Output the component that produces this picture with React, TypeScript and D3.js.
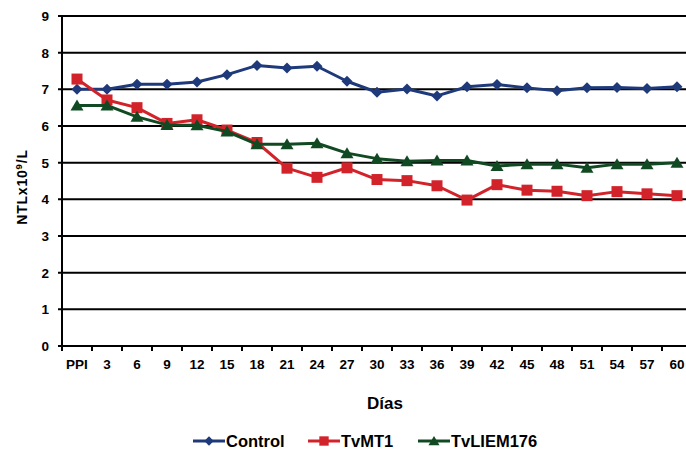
import React from "react";
import * as d3 from "d3";

const categories = ["PPI","3","6","9","12","15","18","21","24","27","30","33","36","39","42","45","48","51","54","57","60"];
const control = [7.0,7.0,7.14,7.14,7.2,7.4,7.65,7.58,7.63,7.22,6.92,7.01,6.82,7.07,7.13,7.04,6.96,7.04,7.05,7.02,7.07];
const tvmt1 = [7.28,6.71,6.5,6.07,6.17,5.89,5.55,4.85,4.6,4.86,4.54,4.51,4.37,3.98,4.4,4.25,4.22,4.1,4.21,4.15,4.1];
const tvliem = [6.56,6.56,6.25,6.03,6.02,5.85,5.5,5.5,5.53,5.26,5.11,5.04,5.06,5.06,4.91,4.96,4.96,4.86,4.96,4.96,5.0];
const yTicks = [0,1,2,3,4,5,6,7,8,9];

const W = 686, H = 450;
const left = 62, right = 692, top = 16, bottom = 346;
const font = "'Liberation Sans', Arial, sans-serif";

const series = [
  { name: "Control", values: control, color: "#1f3a7b", marker: "diamond" },
  { name: "TvMT1", values: tvmt1, color: "#d2232a", marker: "square" },
  { name: "TvLIEM176", values: tvliem, color: "#114a22", marker: "triangle" },
];

function Marker({ type, x, y, color, s = 1 }: { type: string; x: number; y: number; color: string; s?: number }) {
  if (type === "diamond") {
    const r = 5.5 * s;
    return <path d={`M${x},${y - r}L${x + r},${y}L${x},${y + r}L${x - r},${y}Z`} fill={color} />;
  }
  if (type === "square") {
    const r = 5.5 * s;
    return <rect x={x - r} y={y - r} width={2 * r} height={2 * r} fill={color} />;
  }
  return <path d={`M${x},${y - 6 * s}L${x + 6.5 * s},${y + 5 * s}L${x - 6.5 * s},${y + 5 * s}Z`} fill={color} />;
}

export default function App() {
  const x = d3.scaleBand<string>().domain(categories).range([left, right]);
  const y = d3.scaleLinear().domain([0, 9]).range([bottom, top]);
  const cx = (c: string) => (x(c) as number) + x.bandwidth() / 2;
  const line = d3.line<number>().x((_, i) => cx(categories[i])).y((v) => y(v));
  const boundaries = categories.map((c) => x(c) as number).concat([right]);

  const legendItems = [
    { s: series[0], lx: 193 },
    { s: series[1], lx: 308 },
    { s: series[2], lx: 418 },
  ];
  const ly = 441;

  return (
    <svg width={W} height={H} style={{ position: "absolute", left: 0, top: 0, background: "#fff" }}>
      {yTicks.map((t) => (
        <g key={t}>
          <line x1={left - 4} x2={W} y1={y(t)} y2={y(t)} stroke="#000" strokeWidth={2} />
          <text x={49} y={y(t)} dy="0.36em" textAnchor="end" fontFamily={font} fontWeight="bold" fontSize={13.5}>{t}</text>
        </g>
      ))}
      <line x1={left} x2={left} y1={top} y2={bottom} stroke="#000" strokeWidth={2} />
      {boundaries.map((b, i) => (
        <line key={i} x1={b} x2={b} y1={bottom} y2={bottom + 5} stroke="#000" strokeWidth={2} />
      ))}
      {categories.map((c) => (
        <text key={c} x={cx(c)} y={364} dy="0.36em" textAnchor="middle" fontFamily={font} fontWeight="bold" fontSize={13.5}>{c}</text>
      ))}
      <text transform={`translate(27,187) rotate(-90)`} textAnchor="middle" fontFamily={font} fontWeight="bold" fontSize={14} letterSpacing={0.8}>
        NTLx10<tspan dy="-5" fontSize={9.5}>9</tspan><tspan dy="5">/L</tspan>
      </text>
      <text x={385} y={403} dy="0.36em" textAnchor="middle" fontFamily={font} fontWeight="bold" fontSize={17}>Días</text>
      {series.map((s) => (
        <g key={s.name}>
          <path d={line(s.values) as string} fill="none" stroke={s.color} strokeWidth={3} strokeLinejoin="round" />
          {s.values.map((v, i) => (
            <Marker key={i} type={s.marker} x={cx(categories[i])} y={y(v)} color={s.color} />
          ))}
        </g>
      ))}
      {legendItems.map(({ s, lx }) => (
        <g key={s.name}>
          <line x1={lx} x2={lx + 32} y1={ly} y2={ly} stroke={s.color} strokeWidth={3} />
          <Marker type={s.marker} x={lx + 16} y={ly} color={s.color} s={0.85} />
          <text x={lx + 33} y={ly} dy="0.36em" fontFamily={font} fontWeight="bold" fontSize={16.5}>{s.name}</text>
        </g>
      ))}
    </svg>
  );
}
